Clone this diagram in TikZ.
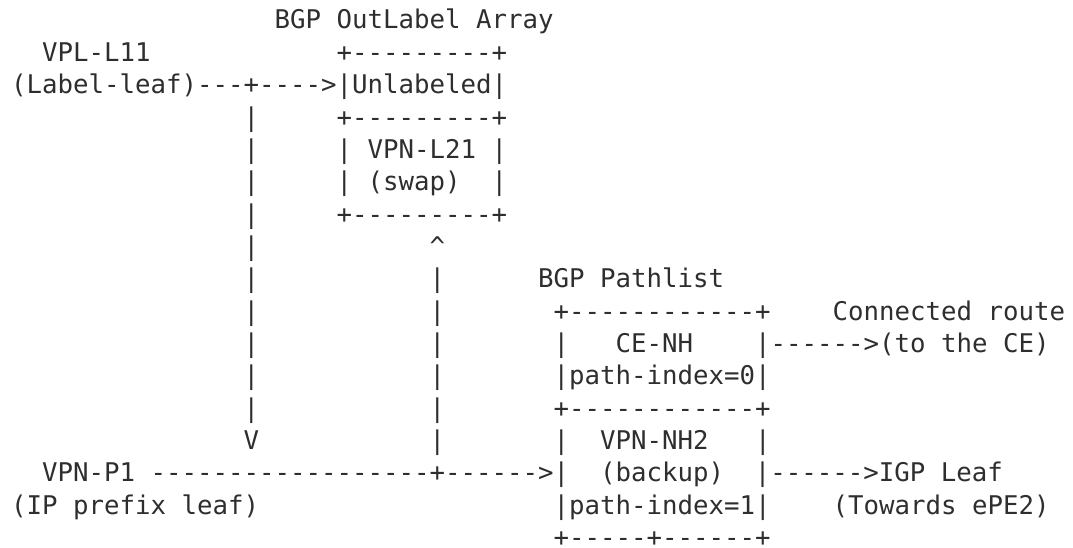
\documentclass[tikz,border=0pt]{standalone}
\usepackage{fontspec}
\setmonofont{DejaVu Sans Mono}
\definecolor{ink}{HTML}{2E2E2E}
\tikzset{txt/.style={anchor=base west, inner sep=0pt, outer sep=0pt, text=ink,
  font=\ttfamily\fontsize{25.74pt}{30pt}\selectfont}}
\newcommand\seg[4]{\node[txt] (#1) at ({11.2pt+#2*15.5pt},{-29pt-(#3-1)*32.35pt}) {#4};}
\begin{document}
\begin{tikzpicture}
\useasboundingbox (0,0) rectangle (1073pt,-548pt);
% row 1
\seg{t1}{17}{1}{BGP~OutLabel~Array}
% row 2
\seg{vpl}{2}{2}{VPL-L11}
\seg{oa1}{21}{2}{+---------+}
% row 3
\seg{lab}{0}{3}{(Label-leaf)---+---->|Unlabeled|}
% rows 4-7
\seg{v4}{15}{4}{|}
\seg{oa2}{21}{4}{+---------+}
\seg{v5}{15}{5}{|}
\seg{oa3}{21}{5}{|~VPN-L21~|}
\seg{v6}{15}{6}{|}
\seg{oa4}{21}{6}{|~(swap)~~|}
\seg{v7}{15}{7}{|}
\seg{oa5}{21}{7}{+---------+}
% row 8
\seg{v8}{15}{8}{|}
\seg{up8}{27}{8}{\textasciicircum}
% row 9
\seg{v9}{15}{9}{|}
\seg{u9}{27}{9}{|}
\seg{pl}{34}{9}{BGP~Pathlist}
% row 10
\seg{v10}{15}{10}{|}
\seg{u10}{27}{10}{|}
\seg{pb1}{35}{10}{+------------+}
\seg{cr}{53}{10}{Connected~route}
% row 11
\seg{v11}{15}{11}{|}
\seg{u11}{27}{11}{|}
\seg{pb2}{35}{11}{|~~~CE-NH~~~~|------>(to~the~CE)}
% row 12
\seg{v12}{15}{12}{|}
\seg{u12}{27}{12}{|}
\seg{pb3}{35}{12}{|path-index=0|}
% row 13
\seg{v13}{15}{13}{|}
\seg{u13}{27}{13}{|}
\seg{pb4}{35}{13}{+------------+}
% row 14
\seg{dn}{15}{14}{V}
\seg{u14}{27}{14}{|}
\seg{pb5}{35}{14}{|~~VPN-NH2~~~|}
% row 15
\seg{vpn}{2}{15}{VPN-P1~------------------+------>|~~(backup)~~|------>IGP~Leaf}
% row 16
\seg{ipl}{0}{16}{(IP~prefix~leaf)}
\seg{pb6}{35}{16}{|path-index=1|}
\seg{tw}{53}{16}{(Towards~ePE2)}
% row 17
\seg{pb7}{35}{17}{+-----+------+}
\end{tikzpicture}
\end{document}
